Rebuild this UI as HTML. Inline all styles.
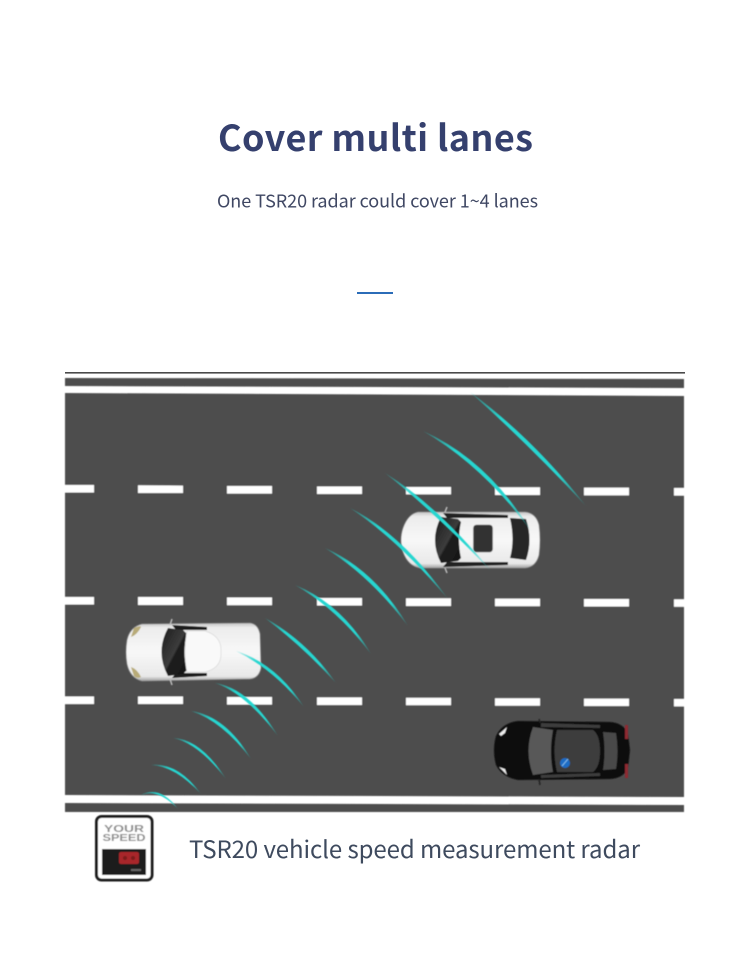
<!DOCTYPE html>
<html lang="en">
<head>
<meta charset="utf-8">
<title>Cover multi lanes</title>
<style>
html,body{margin:0;padding:0;background:#fff;width:750px;height:977px;overflow:hidden}
svg{display:block}
text{font-family:"Liberation Sans","Noto Sans CJK SC",sans-serif}
.cjk{font-family:"Noto Sans CJK SC","Liberation Sans",sans-serif}
</style>
</head>
<body>
<svg width="750" height="977" viewBox="0 0 750 977" xmlns="http://www.w3.org/2000/svg">
<defs>
<linearGradient id="arc" x1="0" y1="0" x2="1" y2="1">
<stop offset="0" stop-color="#25d6d0" stop-opacity=".3"/>
<stop offset=".25" stop-color="#25d6d0"/>
<stop offset=".75" stop-color="#25d6d0"/>
<stop offset="1" stop-color="#25d6d0" stop-opacity=".15"/>
</linearGradient>
<linearGradient id="glass" x1="0" y1="0" x2="1" y2="1">
<stop offset="0" stop-color="#1c1c1c"/>
<stop offset=".5" stop-color="#3c3c3c"/>
<stop offset=".55" stop-color="#1e1e1e"/>
<stop offset="1" stop-color="#161616"/>
</linearGradient>
<linearGradient id="bodyW" x1="0" y1="0" x2="0" y2="1">
<stop offset="0" stop-color="#c4c4c4"/>
<stop offset=".08" stop-color="#ececec"/>
<stop offset=".5" stop-color="#f8f8f8"/>
<stop offset=".92" stop-color="#e8e8e8"/>
<stop offset="1" stop-color="#a0a0a0"/>
</linearGradient>
<filter id="b1" x="-5%" y="-5%" width="110%" height="110%"><feGaussianBlur stdDeviation=".5"/></filter>
<filter id="b2" x="-20%" y="-20%" width="140%" height="140%"><feGaussianBlur stdDeviation=".5"/></filter>
</defs>

<text class="cjk" x="218" y="151" font-size="36" font-weight="700" fill="#35406e" textLength="315" lengthAdjust="spacing">Cover multi lanes</text>
<text class="cjk" x="217" y="207.500" font-size="18" fill="#3f4763" textLength="321" lengthAdjust="spacing">One TSR20 radar could cover 1~4 lanes</text>
<rect x="357" y="292" width="36" height="2" fill="#2b6cb8"/>

<!-- road -->
<rect x="65" y="372" width="620" height="1.6" fill="#4a4a4a"/>
<g filter="url(#b1)">
<polygon points="65,378 684,379 684,388 65,386" fill="#4d4d4d"/>
<polygon points="65,393 684,396 684,797 65,795" fill="#4d4d4d"/>
<polygon points="65,803 684,805 684,812 65,812" fill="#4d4d4d"/>
<g fill="#fff">
<polygon points="65,485 94,485 94,492.5 65,492.5"/>
<polygon points="138,485.3 183,485.6 183,493 138,493"/>
<polygon points="227,486 272,486 272,493.6 227,493.6"/>
<polygon points="317,486.5 362,486.5 362,494 317,494"/>
<polygon points="406,487 451,487 451,494.4 406,494.4"/>
<polygon points="495,487.3 540,487.3 540,495 495,495"/>
<polygon points="584,487.6 629,487.6 629,495.4 584,495.4"/>
<polygon points="674,488 684,488 684,495.6 674,495.6"/>
<polygon points="65,597 94,597 94,604.5 65,604.5"/>
<polygon points="138,597 183,597 183,605 138,605"/>
<polygon points="227,597.5 272,597.5 272,605.3 227,605.3"/>
<polygon points="317,598 362,598 362,605.5 317,605.5"/>
<polygon points="406,598.3 451,598.3 451,606 406,606"/>
<polygon points="495,598.6 540,598.6 540,606.2 495,606.2"/>
<polygon points="584,599 629,599 629,606.5 584,606.5"/>
<polygon points="674,599.3 684,599.3 684,606.8 674,606.8"/>
<polygon points="65,696.5 94,696.5 94,704 65,704"/>
<polygon points="138,696.5 183,696.5 183,704 138,704"/>
<polygon points="227,697 272,697 272,704.6 227,704.6"/>
<polygon points="317,697.4 362,697.4 362,705 317,705"/>
<polygon points="406,697.8 451,697.8 451,705.3 406,705.3"/>
<polygon points="495,698.2 540,698.2 540,705.7 495,705.7"/>
<polygon points="584,698.6 629,698.6 629,706 584,706"/>
<polygon points="674,699 684,699 684,706.4 674,706.4"/>
</g>
</g>

<!-- white car upper -->
<g filter="url(#b2)">
<path d="M418,512 L525,512 Q536,513 539,525 Q541,540 539,555 Q536,567 525,568 L420,568 Q408,566 403,552 Q399,540 403,528 Q408,514 418,512Z" fill="url(#bodyW)" stroke="#8f8f8f" stroke-width=".8"/>
<path d="M443,513 L508,515 L508,518 L447,518Z" fill="#222"/>
<path d="M447,562 L508,562 L508,565 L443,567Z" fill="#222"/>
<path d="M441,517 L458,519 L461,522 Q457,540 461,558 L458,561 L441,563 Q429,540 441,517Z" fill="url(#glass)"/>
<path d="M510,518 L526,519 Q533,540 526,560 L510,558 Q515,540 510,518Z" fill="#262626"/>
<rect x="473.500" y="525" width="19" height="27" rx="3" fill="#333" stroke="#555" stroke-width=".6"/>
<path d="M445,512 L447,507 M445,568 L447,573" stroke="#bbb" stroke-width="1.500"/>
</g>

<!-- white car left -->
<g filter="url(#b2)">
<path d="M142,624 L250,623 Q258,624 260,634 L261,668 Q259,678 250,679 L142,681 Q130,678 127,664 Q125,652 127,640 Q130,627 142,624Z" fill="url(#bodyW)" stroke="#8f8f8f" stroke-width=".8"/>
<path d="M172,625 L207,627 L207,630 L176,630Z" fill="#1c1c1c"/>
<path d="M176,673 L207,673 L207,676 L172,678Z" fill="#1c1c1c"/>
<path d="M168,628 L183,630 L187,634 Q182,652 187,670 L183,674 L168,676 Q155,652 168,628Z" fill="url(#glass)"/>
<path d="M187,631 L205,631 Q222,636 221,652 Q222,668 205,672 L187,672 Q183,652 187,631Z" fill="#f9f9f9" stroke="#d8d8d8" stroke-width=".7"/>
<path d="M134,628 Q141,625 141,627 Q137,635 131,637Z" fill="#b8ab78"/>
<path d="M131,667 Q137,669 141,677 Q137,679 134,676Z" fill="#b8ab78"/>
<path d="M170,625 L172,619 M170,679 L172,685" stroke="#bbb" stroke-width="1.500"/>
</g>

<!-- black car -->
<g filter="url(#b2)">
<path d="M518,721 L610,722 Q624,723 628,734 L630,750 L628,768 Q624,778 610,779 L518,780 Q502,777 496,765 Q492,750 496,736 Q502,723 518,721Z" fill="#0d0d0d"/>
<path d="M533,727 L553,730 Q549,752 553,772 L533,775 Q524,751 533,727Z" fill="#585858"/>
<path d="M557,730 L593,730 Q600,735 600,751 Q600,767 593,772 L557,772 Q552,751 557,730Z" fill="#3c3c3c"/>
<path d="M603,732 L616,733 Q619,751 616,769 L603,770 Q606,751 603,732Z" fill="#484848"/>
<path d="M541,723 L600,725 L600,728 L541,727Z" fill="#3c3c3c"/>
<path d="M541,775 L600,773 L600,776 L541,778Z" fill="#3c3c3c"/>
<path d="M499,734 L507,727 L505,733 L501,736Z" fill="#eee"/>
<path d="M499,767 L505,769 L507,775Z" fill="#eee"/>
<rect x="625" y="725" width="3" height="14" fill="#8e2a30"/>
<rect x="625" y="764" width="3" height="14" fill="#8e2a30"/>
<path d="M539,719 L540,723 M539,779 L540,785" stroke="#222" stroke-width="1.500"/>
<circle cx="565" cy="763" r="5" fill="#1f6cc4"/>
<path d="M562,766 L568,759" stroke="#7fb8e8" stroke-width="1"/>
</g>

<!-- radar arcs -->
<g fill="url(#arc)" filter="url(#b2)">
<path d="M141,795 Q160,785 178,809 Q158,788 141,795Z"/>
<path d="M151,765 Q178,762 201,794 Q175,766 151,765Z"/>
<path d="M173,738 Q201,739 226,779 Q198,743 173,738Z"/>
<path d="M191,711 Q226,716 251,759 Q222,721 191,711Z"/>
<path d="M215,683 Q249,688 278,736 Q245,693 215,683Z"/>
<path d="M236,651 Q277,664 304,707 Q273,669 236,651Z"/>
<path d="M265,618 Q307,641 336,683 Q302,646 265,618Z"/>
<path d="M295,585 Q342,604 371,654 Q337,609 295,585Z"/>
<path d="M325,548 Q375,570 408,626 Q370,576 325,548Z"/>
<path d="M350,508 Q402,534 448,599 Q397,539 350,508Z"/>
<path d="M385,473 Q437,505 491,571 Q432,510 385,473Z"/>
<path d="M423,431 Q488,460 531,531 Q483,466 423,431Z"/>
<path d="M470,392 Q533,438 586,506 Q528,444 470,392Z"/>
</g>

<!-- sign icon -->
<g filter="url(#b2)">
<rect x="96.500" y="816.500" width="55.500" height="63.500" rx="5" fill="#fff" stroke="#1c1c1c" stroke-width="3"/>
<text x="124" y="832" font-size="10" font-weight="700" fill="#8c8c8c" text-anchor="middle" textLength="40" lengthAdjust="spacingAndGlyphs">YOUR</text>
<text x="124" y="841" font-size="10" font-weight="700" fill="#8c8c8c" text-anchor="middle" textLength="43" lengthAdjust="spacingAndGlyphs">SPEED</text>
<rect x="102" y="849" width="44" height="26" fill="#1a1a1a"/>
<rect x="119" y="852" width="20" height="12" rx="2" fill="#a8262a"/>
<circle cx="125" cy="858" r="2" fill="#7a1c1f"/>
<circle cx="133" cy="858" r="2" fill="#7a1c1f"/>
<rect x="131" y="869" width="10" height="2" fill="#666"/>
</g>

<text class="cjk" x="189" y="858" font-size="24" fill="#3e4a5e" textLength="451" lengthAdjust="spacing">TSR20 vehicle speed measurement radar</text>
</svg>
</body>
</html>
